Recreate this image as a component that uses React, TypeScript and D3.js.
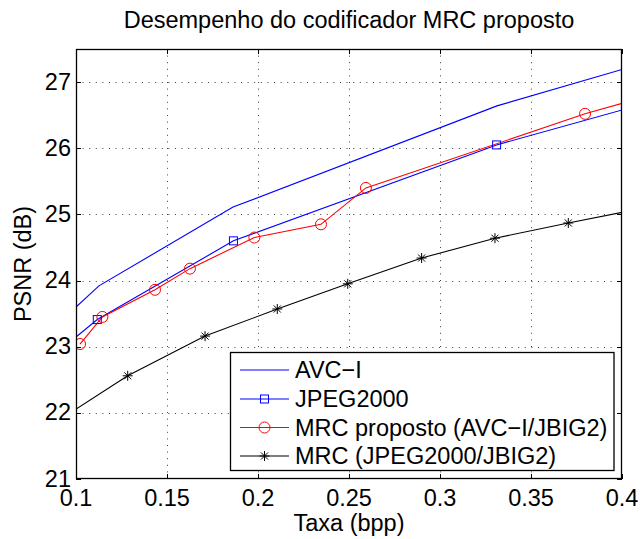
import React from "react";
import * as d3 from "d3";

const avcX = [0.1, 0.1126, 0.1863, 0.3313, 0.4];
const avcY = [23.6, 23.92, 25.11, 26.64, 27.19];

const jpegX = [0.09, 0.1117, 0.1865, 0.3311, 0.45];
const jpegY = [22.92, 23.41, 24.6, 26.05, 26.96];

const mrcPropX = [0.1022, 0.1145, 0.1434, 0.1626, 0.198, 0.2346, 0.2593, 0.3797, 0.45];
const mrcPropY = [23.04, 23.45, 23.86, 24.18, 24.65, 24.85, 25.4, 26.52, 27.07];

const mrcX = [0.09, 0.1284, 0.1709, 0.2106, 0.2493, 0.2899, 0.3302, 0.3705, 0.45];
const mrcY = [21.88, 22.56, 23.16, 23.57, 23.95, 24.34, 24.64, 24.87, 25.3];

const xTicks = [0.1, 0.15, 0.2, 0.25, 0.3, 0.35, 0.4];
const xTickLabels = ["0.1", "0.15", "0.2", "0.25", "0.3", "0.35", "0.4"];
const yTicks = [21, 22, 23, 24, 25, 26, 27];
const yTickLabels = ["21", "22", "23", "24", "25", "26", "27"];

const legendLabels = [
  "AVC\u2212I",
  "JPEG2000",
  "MRC proposto (AVC\u2212I/JBIG2)",
  "MRC (JPEG2000/JBIG2)",
];

const W = 640;
const H = 539;
const L = 76, R = 622, T = 49, B = 479;
const FONT = "'Liberation Sans', Arial, Helvetica, sans-serif";
const FS = 23.5;

function zip(xs: number[], ys: number[]): [number, number][] {
  return xs.map((x, i) => [x, ys[i]]);
}

function Star({ x, y, s, color }: { x: number; y: number; s: number; color: string }) {
  const d = s / 2;
  const e = d * 0.7071;
  return (
    <g stroke={color} strokeWidth={1}>
      <line x1={x - d} y1={y} x2={x + d} y2={y} />
      <line x1={x} y1={y - d} x2={x} y2={y + d} />
      <line x1={x - e} y1={y - e} x2={x + e} y2={y + e} />
      <line x1={x - e} y1={y + e} x2={x + e} y2={y - e} />
    </g>
  );
}

export default function App() {
  const xs = d3.scaleLinear().domain([0.1, 0.4]).range([L, R]);
  const ys = d3.scaleLinear().domain([21, 27.5]).range([B, T]);
  const line = d3
    .line<[number, number]>()
    .x((d) => xs(d[0]))
    .y((d) => ys(d[1]));

  const series = [
    { pts: zip(avcX, avcY), color: "#0000ff", marker: "none" },
    { pts: zip(jpegX, jpegY), color: "#0000ff", marker: "square" },
    { pts: zip(mrcPropX, mrcPropY), color: "#ff0000", marker: "circle" },
    { pts: zip(mrcX, mrcY), color: "#000000", marker: "star" },
  ];

  const renderMarker = (m: string, x: number, y: number, color: string, key: any) => {
    if (m === "square")
      return <rect key={key} x={x - 4} y={y - 4} width={8} height={8} fill="none" stroke={color} strokeWidth={1} />;
    if (m === "circle")
      return <circle key={key} cx={x} cy={y} r={5.5} fill="none" stroke={color} strokeWidth={1} />;
    if (m === "star") return <Star key={key} x={x} y={y} s={10} color={color} />;
    return null;
  };

  const legX = 230.5, legY = 352.5, legW = 383.5, legH = 118;
  const rowY = [370, 399, 427.5, 456];

  return (
    <div style={{ position: "absolute", left: 0, top: 0 }}>
      <svg width={W} height={H} style={{ display: "block", background: "#fff" }} fontFamily={FONT}>
        <defs>
          <clipPath id="plotclip">
            <rect x={L} y={T} width={R - L} height={B - T} />
          </clipPath>
        </defs>
        <rect x={0} y={0} width={W} height={H} fill="#fff" />
        {/* grid */}
        <g stroke="#000" strokeWidth={1} strokeDasharray="1,5.6" opacity={0.75}>
          {xTicks.slice(1, -1).map((t) => (
            <line key={"gx" + t} x1={Math.round(xs(t)) + 0.5} x2={Math.round(xs(t)) + 0.5} y1={T} y2={B} />
          ))}
          {yTicks.slice(1).map((t) => (
            <line key={"gy" + t} y1={Math.round(ys(t)) + 0.5} y2={Math.round(ys(t)) + 0.5} x1={L} x2={R} />
          ))}
        </g>
        {/* data */}
        <g clipPath="url(#plotclip)">
          {series.map((s, i) => (
            <path key={"l" + i} d={line(s.pts) || ""} fill="none" stroke={s.color} strokeWidth={1.1} />
          ))}
          {series.map((s, i) =>
            s.pts.map((p, j) => renderMarker(s.marker, xs(p[0]), ys(p[1]), s.color, "m" + i + "-" + j))
          )}
        </g>
        {/* box & ticks */}
        <rect x={L + 0.5} y={T + 0.5} width={R - L - 1} height={B - T - 1} fill="none" stroke="#000" strokeWidth={1.3} />
        <g stroke="#000" strokeWidth={1}>
          {xTicks.map((t) => (
            <g key={"tx" + t}>
              <line x1={Math.round(xs(t)) + 0.5} x2={Math.round(xs(t)) + 0.5} y1={B} y2={B - 5} />
              <line x1={Math.round(xs(t)) + 0.5} x2={Math.round(xs(t)) + 0.5} y1={T} y2={T + 5} />
            </g>
          ))}
          {yTicks.map((t) => (
            <g key={"ty" + t}>
              <line y1={Math.round(ys(t)) + 0.5} y2={Math.round(ys(t)) + 0.5} x1={L} x2={L + 5} />
              <line y1={Math.round(ys(t)) + 0.5} y2={Math.round(ys(t)) + 0.5} x1={R} x2={R - 5} />
            </g>
          ))}
        </g>
        {/* tick labels */}
        <g fontSize={FS} fill="#000">
          {xTicks.map((t, i) => (
            <text key={"xl" + t} x={xs(t)} y={506} textAnchor="middle">
              {xTickLabels[i]}
            </text>
          ))}
          {yTicks.map((t, i) => (
            <text key={"yl" + t} x={71} y={ys(t) + 7.5} textAnchor="end">
              {yTickLabels[i]}
            </text>
          ))}
        </g>
        {/* labels */}
        <text x={(L + R) / 2} y={28} textAnchor="middle" fontSize={FS}>
          Desempenho do codificador MRC proposto
        </text>
        <text x={(L + R) / 2} y={531} textAnchor="middle" fontSize={FS}>
          Taxa (bpp)
        </text>
        <text transform={`translate(31, ${(T + B) / 2}) rotate(-90)`} textAnchor="middle" fontSize={FS}>
          PSNR (dB)
        </text>
        {/* legend */}
        <rect x={legX} y={legY} width={legW} height={legH} fill="#fff" stroke="#000" strokeWidth={1.3} />
        {series.map((s, i) => (
          <g key={"leg" + i}>
            <line x1={240} x2={289} y1={rowY[i]} y2={rowY[i]} stroke={s.color} strokeWidth={1.1} />
            {renderMarker(s.marker, 264.5, rowY[i], s.color, "lm" + i)}
            <text x={295} y={rowY[i] + 8} fontSize={FS}>
              {legendLabels[i]}
            </text>
          </g>
        ))}
      </svg>
    </div>
  );
}
